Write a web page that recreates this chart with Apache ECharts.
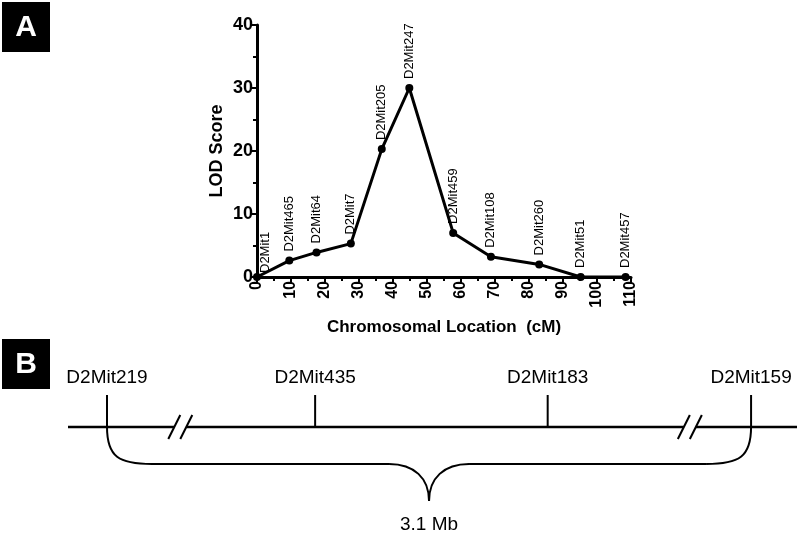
<!DOCTYPE html>
<html>
<head>
<meta charset="utf-8">
<script src="https://cdn.jsdelivr.net/npm/echarts@6/dist/echarts.min.js"></script>
<style>html,body{margin:0;background:#fff}#chart{width:800px;height:537px}</style>
</head>
<body>
<div id="chart"></div>
<script>
// panel A: LOD score along chromosome 2
const markers = ['D2Mit1', 'D2Mit465', 'D2Mit64', 'D2Mit7', 'D2Mit205', 'D2Mit247', 'D2Mit459', 'D2Mit108', 'D2Mit260', 'D2Mit51', 'D2Mit457'];
const locationsCM = [0, 9.5, 17.5, 27.6, 36.7, 44.8, 57.7, 68.8, 83, 95.2, 108.4];
const lodScores = [0, 2.6, 3.9, 5.3, 20.3, 30.0, 7.0, 3.2, 2.0, 0, 0];

// panel B: physical map (schematic position 0-100 along the line)
const mapMarkers = ['D2Mit219', 'D2Mit435', 'D2Mit183', 'D2Mit159'];
const mapPositions = [5.35, 33.9, 65.8, 93.7];
const mapBreaks = [15.4, 85.3];
const spanLabel = '3.1 Mb';

const FONT = '"Liberation Sans", Arial, sans-serif';
const chart = echarts.init(document.getElementById('chart'), null, { renderer: 'canvas' });

const axisCommon = {
  axisLine: { lineStyle: { color: '#000', width: 3 } },
  axisTick: { length: 6, lineStyle: { color: '#000', width: 2 } },
  minorTick: { show: true, splitNumber: 2, length: 4, lineStyle: { color: '#000', width: 2 } },
  splitLine: { show: false },
  nameTextStyle: { color: '#000', fontWeight: 'bold', fontFamily: FONT }
};

const stroke = { stroke: '#000', lineWidth: 2, fill: null };

function renderMarker(params, api) {
  const p = api.coord([api.value(0), 0]);
  return {
    type: 'group',
    children: [
      { type: 'line', shape: { x1: p[0], y1: p[1] - 32, x2: p[0], y2: p[1] }, style: stroke },
      { type: 'text', x: p[0], y: p[1] - 49, style: { text: mapMarkers[params.dataIndex], fill: '#000', fontSize: 19, fontFamily: FONT, align: 'center', verticalAlign: 'middle' } }
    ]
  };
}

function renderLine(params, api) {
  const a = api.coord([0, 0]), b = api.coord([100, 0]);
  const y = a[1];
  const g = mapBreaks.map(v => api.coord([v, 0])[0]);
  const kids = [];
  const xs = [a[0], g[0] - 6, g[0] + 6, g[1] - 6, g[1] + 6, b[0]];
  for (let i = 0; i < xs.length; i += 2) {
    kids.push({ type: 'line', shape: { x1: xs[i], y1: y, x2: xs[i + 1], y2: y }, style: { stroke: '#000', lineWidth: 2.5 } });
  }
  g.forEach(x => {
    kids.push({ type: 'line', shape: { x1: x - 12, y1: y + 12, x2: x, y2: y - 12 }, style: stroke });
    kids.push({ type: 'line', shape: { x1: x, y1: y + 12, x2: x + 12, y2: y - 12 }, style: stroke });
  });
  // brace under the span
  const L = api.coord([mapPositions[0], 0])[0];
  const R = api.coord([mapPositions[mapPositions.length - 1], 0])[0];
  const M = (L + R) / 2, h = y + 37, tip = y + 74;
  kids.push(
    { type: 'bezierCurve', shape: { x1: L, y1: y, cpx1: L, cpy1: y + 30, cpx2: L + 12, cpy2: h, x2: L + 45, y2: h }, style: stroke },
    { type: 'line', shape: { x1: L + 45, y1: h, x2: M - 40, y2: h }, style: stroke },
    { type: 'bezierCurve', shape: { x1: M - 40, y1: h, cpx1: M - 15, cpy1: h, cpx2: M, cpy2: h + 14, x2: M, y2: tip }, style: stroke },
    { type: 'bezierCurve', shape: { x1: M, y1: tip, cpx1: M, cpy1: h + 14, cpx2: M + 15, cpy2: h, x2: M + 40, y2: h }, style: stroke },
    { type: 'line', shape: { x1: M + 40, y1: h, x2: R - 45, y2: h }, style: stroke },
    { type: 'bezierCurve', shape: { x1: R - 45, y1: h, cpx1: R - 12, cpy1: h, cpx2: R, cpy2: y + 30, x2: R, y2: y }, style: stroke },
    { type: 'text', x: M, y: y + 98, style: { text: spanLabel, fill: '#000', fontSize: 19, fontFamily: FONT, align: 'center', verticalAlign: 'middle' } }
  );
  return { type: 'group', children: kids };
}

const panelTag = (txt, x, y) => ({
  type: 'group', left: x, top: y,
  children: [
    { type: 'rect', shape: { x: 0, y: 0, width: 48, height: 50 }, style: { fill: '#000' } },
    { type: 'text', x: 24, y: 26, style: { text: txt, fill: '#fff', fontSize: 30, fontWeight: 'bold', fontFamily: FONT, align: 'center', verticalAlign: 'middle' } }
  ]
});

chart.setOption({
  backgroundColor: '#fff',
  animation: false,
  graphic: [panelTag('A', 2, 2), panelTag('B', 2, 339)],
  grid: [
    { left: 257, top: 25, right: 169, bottom: 260 },
    { left: 68, right: 3, top: 407, height: 40 }
  ],
  xAxis: [
    {
      ...axisCommon, type: 'value', gridIndex: 0, min: 0, max: 110, interval: 10,
      name: 'Chromosomal Location  (cM)', nameLocation: 'middle', nameGap: 42,
      nameTextStyle: { ...axisCommon.nameTextStyle, fontSize: 17 },
      axisLabel: { rotate: 90, margin: 4, color: '#000', fontSize: 16, fontWeight: 'bold', fontFamily: FONT }
    },
    { type: 'value', gridIndex: 1, min: 0, max: 100, show: false }
  ],
  yAxis: [
    {
      ...axisCommon, type: 'value', gridIndex: 0, min: 0, max: 40, interval: 10,
      name: 'LOD Score', nameLocation: 'middle', nameGap: 31,
      nameTextStyle: { ...axisCommon.nameTextStyle, fontSize: 18 },
      axisLabel: { margin: 4, color: '#000', fontSize: 18, fontWeight: 'bold', fontFamily: FONT }
    },
    { type: 'value', gridIndex: 1, min: -1, max: 1, show: false }
  ],
  series: [
    {
      type: 'line', xAxisIndex: 0, yAxisIndex: 0, clip: false,
      data: locationsCM.map((x, i) => i === 0
        ? { value: [x, lodScores[i]], label: { offset: [-5, 8] } }
        : [x, lodScores[i]]),
      symbol: 'circle', symbolSize: 8,
      itemStyle: { color: '#000' },
      lineStyle: { color: '#000', width: 3 },
      label: {
        show: true, position: 'top', distance: 5, rotate: 90, align: 'left', verticalAlign: 'middle',
        color: '#000', fontSize: 13, fontFamily: FONT,
        formatter: p => markers[p.dataIndex]
      }
    },
    {
      type: 'custom', xAxisIndex: 1, yAxisIndex: 1, clip: false,
      data: [[0, 0]], renderItem: renderLine
    },
    {
      type: 'custom', xAxisIndex: 1, yAxisIndex: 1, clip: false,
      data: mapPositions.map(p => [p, 0]), renderItem: renderMarker
    }
  ]
});
</script>
</body>
</html>
